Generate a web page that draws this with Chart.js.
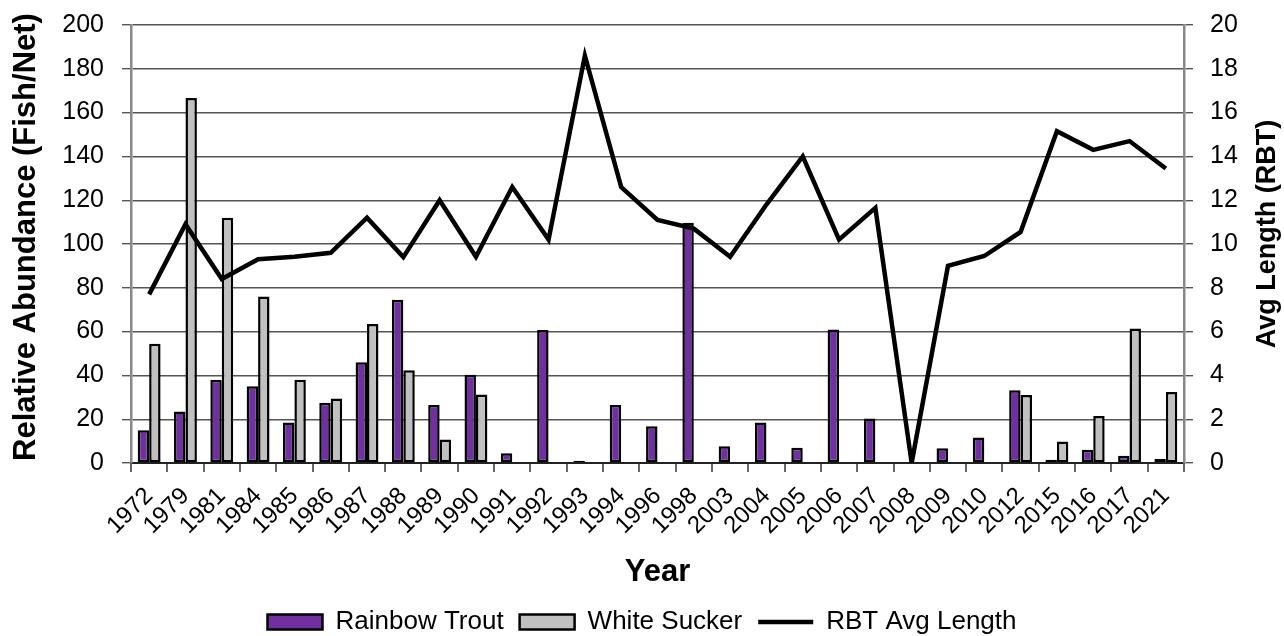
<!DOCTYPE html>
<html>
<head>
<meta charset="utf-8">
<title>Relative Abundance and RBT Average Length by Year</title>
<script src="https://cdn.jsdelivr.net/npm/chart.js@4/dist/chart.umd.min.js"></script>
<style>
  html, body { margin: 0; padding: 0; background: #ffffff; }
  #wrap { width: 1284px; height: 636px; position: relative; }
</style>
</head>
<body>
<div id="wrap"><canvas id="chart"></canvas></div>
<script>
// Survey years (category axis)
const years = ['1972', '1979', '1981', '1984', '1985', '1986', '1987', '1988', '1989', '1990',
  '1991', '1992', '1993', '1994', '1996', '1998', '2003', '2004', '2005', '2006',
  '2007', '2008', '2009', '2010', '2012', '2015', '2016', '2017', '2021'];

// Relative abundance, fish per net (left axis)
const rainbowTrout = [15, 23.5, 38, 35, 18.5, 27.5, 46, 74.5, 26.5, 40.3,
  4.5, 60.7, 1, 26.5, 16.8, 109.7, 7.6, 18.5, 7, 61,
  20.3, 0, 6.7, 11.7, 33.2, 1.5, 6, 3.3, 1.8];
const whiteSucker = [54.5, 166.7, 112, 76, 38, 29.5, 63.5, 42.3, 10.7, 31.3,
  0, 0, 0, 0, 0, 0, 0, 0, 0, 0,
  0, 0, 0, 0.3, 31, 9.8, 21.5, 61.4, 32.4];

// Rainbow trout average length (right axis)
const rbtAvgLength = [7.7, 10.9, 8.4, 9.3, 9.42, 9.6, 11.2, 9.4, 12.0, 9.42,
  12.6, 10.2, 18.6, 12.6, 11.1, 10.7, 9.42, 11.8, 14.0, 10.2,
  11.65, 0, 9.0, 9.45, 10.55, 15.15, 14.3, 14.7, 13.45];

// Axis ranges and labels
const abundanceRange = [0, 200, 20];
const lengthRange = [0, 20, 2];
const xAxisTitle = 'Year';
const leftAxisTitle = 'Relative Abundance (Fish/Net)';
const rightAxisTitle = 'Avg Length (RBT)';

const FONT = '"Liberation Sans", Arial, Helvetica, sans-serif';
Chart.defaults.font.family = FONT;
Chart.defaults.color = '#000000';

// Vertical axis titles, both drawn reading bottom-to-top
const sideTitlesPlugin = {
  id: 'sideTitles',
  afterDraw(chart, args, opts) {
    const { ctx, chartArea } = chart;
    const midY = (chartArea.top + chartArea.bottom) / 2;
    const draw = (text, font, x, y) => {
      ctx.save();
      ctx.font = font;
      ctx.fillStyle = '#000000';
      ctx.textAlign = 'center';
      ctx.textBaseline = 'middle';
      ctx.translate(x, y);
      ctx.rotate(-Math.PI / 2);
      ctx.fillText(text, 0, 0);
      ctx.restore();
    };
    draw(opts.left, 'bold 31px ' + FONT, chart.scales.y.left + 26, midY - 7);
    draw(opts.right, 'bold 27px ' + FONT, chart.scales.y1.right - 16, midY - 10);
  }
};

// Fixed axis widths; the tick padding should not push the plot area down
function fixWidth(w) {
  return (s) => {
    s.width = w;
    s.paddingTop = 0;
    s.paddingBottom = 0;
  };
}

new Chart(document.getElementById('chart'), {
  data: {
    labels: years,
    datasets: [
      {
        type: 'bar',
        label: 'Rainbow Trout',
        data: rainbowTrout,
        yAxisID: 'y',
        backgroundColor: '#7030A0',
        borderColor: '#000000',
        borderWidth: 2.5,
        borderSkipped: false,
        pointStyle: 'rect',
        categoryPercentage: 0.63,
        barPercentage: 1.0,
        order: 1
      },
      {
        type: 'bar',
        label: 'White Sucker',
        data: whiteSucker,
        yAxisID: 'y',
        backgroundColor: '#C0C0C0',
        borderColor: '#000000',
        borderWidth: 2.5,
        borderSkipped: false,
        pointStyle: 'rect',
        categoryPercentage: 0.63,
        barPercentage: 1.0,
        order: 1
      },
      {
        type: 'line',
        label: 'RBT Avg Length',
        data: rbtAvgLength,
        yAxisID: 'y1',
        borderColor: '#000000',
        backgroundColor: '#000000',
        borderWidth: 4.5,
        borderJoinStyle: 'miter',
        tension: 0,
        pointRadius: 0,
        pointHoverRadius: 0,
        pointStyle: 'line',
        pointBorderWidth: 4.5,
        pointBorderColor: '#000000',
        fill: false,
        order: 0
      }
    ]
  },
  options: {
    responsive: true,
    maintainAspectRatio: false,
    animation: false,
    devicePixelRatio: 1,
    layout: { padding: { top: 25, left: 0, right: 0, bottom: -9 } },
    plugins: {
      tooltip: { enabled: false },
      sideTitles: { left: leftAxisTitle, right: rightAxisTitle },
      legend: {
        position: 'bottom',
        labels: {
          usePointStyle: true,
          pointStyleWidth: 55,
          boxHeight: 15,
          padding: 16,
          color: '#000000',
          font: { size: 26 },
          sort: (a, b) => a.datasetIndex - b.datasetIndex
        }
      }
    },
    scales: {
      x: {
        type: 'category',
        offset: true,
        grid: {
          offset: true,
          drawOnChartArea: false,
          drawTicks: true,
          tickLength: 9,
          color: '#666666',
          lineWidth: 2
        },
        border: { display: true, color: '#222222', width: 2 },
        ticks: {
          autoSkip: false,
          minRotation: 45,
          maxRotation: 45,
          padding: 10,
          color: '#000000',
          font: { size: 24 }
        },
        title: {
          display: true,
          text: xAxisTitle,
          color: '#000000',
          font: { size: 31, weight: 'bold' },
          padding: { top: 0, bottom: 2 }
        },
        afterFit: (s) => { s.height = 130; }
      },
      y: {
        position: 'left',
        min: abundanceRange[0],
        max: abundanceRange[1],
        ticks: {
          stepSize: abundanceRange[2],
          padding: 18,
          color: '#000000',
          font: { size: 25 }
        },
        grid: {
          color: '#555555',
          lineWidth: 1.4,
          drawTicks: true,
          tickLength: 9
        },
        border: { display: true, color: '#888888', width: 2.5 },
        afterFit: fixWidth(131)
      },
      y1: {
        position: 'right',
        min: lengthRange[0],
        max: lengthRange[1],
        ticks: {
          stepSize: lengthRange[2],
          padding: 17,
          color: '#000000',
          font: { size: 25 }
        },
        grid: {
          drawOnChartArea: false,
          drawTicks: true,
          tickLength: 9,
          color: '#555555',
          lineWidth: 1.4
        },
        border: { display: true, color: '#888888', width: 2.5 },
        afterFit: fixWidth(100)
      }
    }
  },
  plugins: [sideTitlesPlugin]
});
</script>
</body>
</html>
